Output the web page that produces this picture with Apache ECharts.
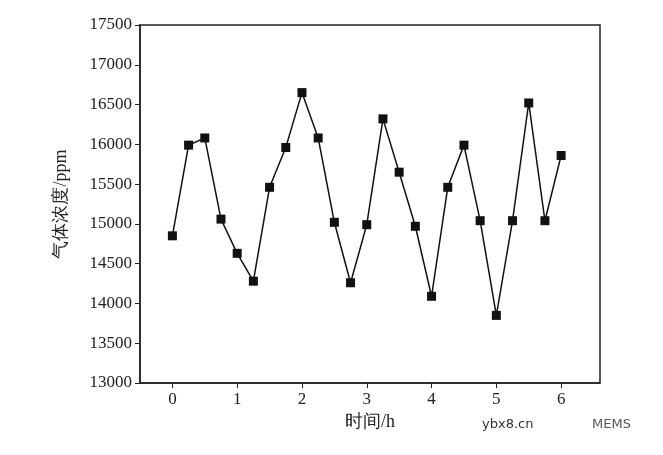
<!DOCTYPE html>
<html><head><meta charset="utf-8">
<script src="https://cdn.jsdelivr.net/npm/echarts@6/dist/echarts.min.js"></script>
<style>html,body{margin:0;padding:0;background:#fff}#c{width:663px;height:455px}</style>
</head><body><div id="c"></div>
<script>
const hours = [0,0.25,0.5,0.75,1,1.25,1.5,1.75,2,2.25,2.5,2.75,3,3.25,3.5,3.75,4,4.25,4.5,4.75,5,5.25,5.5,5.75,6];
const ppm = [14850,15990,16080,15060,14630,14280,15460,15960,16650,16080,15020,14260,14990,16320,15650,14970,14090,15460,15990,15040,13850,15040,16520,15040,15860];
const xTicks = [0,1,2,3,4,5,6];
const xTitle = '时间/h';
const yTitle = '气体浓度/ppm';
const font = '"Liberation Serif", serif';
const chart = echarts.init(document.getElementById('c'));
chart.setOption({
  animation:false,
  grid:{left:140,right:63,top:25,bottom:72},
  xAxis:{type:'value',min:-0.5,max:6.6,
    name:xTitle,nameLocation:'middle',nameGap:24,
    nameTextStyle:{fontFamily:font,fontSize:18,color:'#222'},
    axisLine:{onZero:false,lineStyle:{color:'#222',width:1.5}},
    axisTick:{length:5,customValues:xTicks,lineStyle:{color:'#222'}},
    axisLabel:{fontFamily:font,fontSize:17,color:'#222',customValues:xTicks},
    splitLine:{show:false}},
  yAxis:{type:'value',min:13000,max:17500,interval:500,
    name:yTitle,nameLocation:'middle',nameGap:70,
    nameTextStyle:{fontFamily:font,fontSize:18,color:'#222'},
    axisLine:{onZero:false,lineStyle:{color:'#222',width:1.5}},
    axisTick:{length:5,lineStyle:{color:'#222'}},
    axisLabel:{fontFamily:font,fontSize:17,color:'#222',formatter:v=>String(v)},
    splitLine:{show:false}},
  graphic:[
    {type:'rect',shape:{x:140,y:25,width:460,height:358},style:{fill:'none',stroke:'#222',lineWidth:1.5},silent:true},
    {type:'text',left:482,top:418,style:{text:'ybx8.cn',font:'13px "DejaVu Sans"',fill:'#333'}},
    {type:'text',left:592,top:418,style:{text:'MEMS',font:'13px "DejaVu Sans"',fill:'#555'}}
  ],
  series:[{type:'line',data:hours.map((h,i)=>[h,ppm[i]]),
    symbol:'rect',symbolSize:9,
    itemStyle:{color:'#111'},lineStyle:{color:'#111',width:1.5}}]
});
</script></body></html>
